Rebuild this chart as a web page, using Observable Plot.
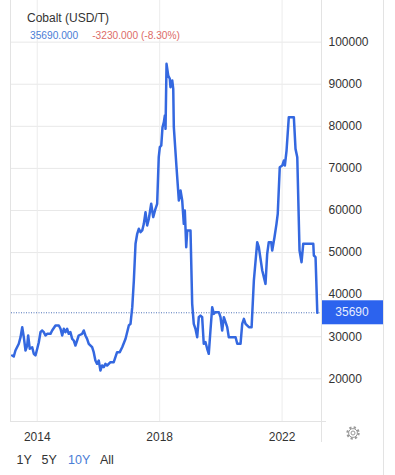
<!DOCTYPE html>
<html>
<head>
<meta charset="utf-8">
<script src="https://cdn.jsdelivr.net/npm/d3@7"></script>
<script src="https://cdn.jsdelivr.net/npm/@observablehq/plot@0.6"></script>
<style>
  html, body { margin: 0; padding: 0; background: #fff; }
  #wrap { position: relative; width: 395px; height: 475px; overflow: hidden; background: #fff;
          font-family: "Liberation Sans", Arial, Helvetica, sans-serif; color: #333; }
  #wrap svg.plot { position: absolute; left: 0; top: 0; }
  .abs { position: absolute; white-space: nowrap; }
  .vline { position: absolute; width: 1px; background: #e3e3e3; }
  .hline { position: absolute; height: 1px; background: #e3e3e3; }
</style>
</head>
<body>
<div id="wrap">
  <div class="vline" style="left:10px;top:0;height:422px"></div>
  <div class="hline" style="left:10px;top:421px;width:316px"></div>
  <div class="vline" style="left:321px;top:0;height:442px"></div>
  <div class="vline" style="left:383px;top:0;height:475px"></div>
</div>
<script>
// ---- data ----
const title = "Cobalt (USD/T)";
const lastText = "35690.000";
const changeText = "-3230.000 (-8.30%)";
const rangeButtons = ["1Y", "5Y", "10Y", "All"];
const activeButton = "10Y";

const dates = [
  "2013-03-08","2013-03-27","2013-04-16","2013-05-26","2013-06-16","2013-07-06","2013-07-25","2013-08-14",
  "2013-09-03","2013-09-15","2013-10-04","2013-11-02","2013-11-21","2013-12-11","2014-01-01","2014-01-20",
  "2014-02-09","2014-03-01","2014-03-20","2014-04-09","2014-04-29","2014-06-08","2014-06-28","2014-08-07",
  "2014-09-16","2014-10-06","2014-10-26","2014-11-14","2014-12-04","2014-12-24","2015-01-12","2015-02-01",
  "2015-02-22","2015-03-13","2015-04-02","2015-04-22","2015-05-11","2015-06-21","2015-07-10","2015-07-30",
  "2015-08-19","2015-09-08","2015-10-18","2015-11-06","2015-11-26","2015-12-16","2016-01-05","2016-01-25",
  "2016-02-14","2016-03-05","2016-03-25","2016-04-14","2016-05-24","2016-07-02","2016-07-22","2016-08-11",
  "2016-09-12","2016-10-11","2016-11-20","2016-12-29","2017-01-18","2017-02-08","2017-02-27","2017-03-19",
  "2017-04-08","2017-04-27","2017-05-18","2017-06-07","2017-06-26","2017-07-16","2017-08-05","2017-08-25",
  "2017-09-22","2017-10-16","2017-11-12","2017-12-02","2017-12-21","2018-01-03","2018-01-20","2018-02-04",
  "2018-02-20","2018-03-04","2018-03-12","2018-03-24","2018-04-13","2018-05-02","2018-05-10","2018-05-31",
  "2018-06-12","2018-06-19","2018-07-21","2018-08-18","2018-09-07","2018-09-27","2018-10-16","2018-10-28",
  "2018-11-14","2018-11-26","2019-01-04","2019-01-24","2019-02-12","2019-03-04","2019-03-25","2019-04-13",
  "2019-05-03","2019-05-23","2019-06-11","2019-07-02","2019-07-22","2019-08-10","2019-08-30","2019-09-20",
  "2019-10-09","2019-10-29","2019-12-08","2019-12-28","2020-01-17","2020-02-06","2020-02-26","2020-03-17",
  "2020-04-05","2020-06-25","2020-07-15","2020-08-23","2020-09-12","2020-10-02","2020-10-22","2020-12-01",
  "2021-01-02","2021-01-29","2021-03-10","2021-03-29","2021-05-09","2021-06-17","2021-07-07","2021-07-26",
  "2021-08-24","2021-09-05","2021-10-02","2021-10-26","2021-11-10","2021-12-04","2022-01-03","2022-01-22",
  "2022-02-03","2022-02-23","2022-03-22","2022-05-21","2022-06-10","2022-07-01","2022-07-28","2022-08-21",
  "2022-09-10","2023-01-08","2023-01-15","2023-02-04","2023-02-25"
];
const values = [
  25540,25300,26730,28320,29890,32260,29890,26730,
  27910,30290,27130,27500,25940,25540,27130,28700,
  31080,31480,31080,30290,30690,30690,31480,32670,
  32670,31880,30290,31880,31080,31880,30690,31080,
  29500,29100,27910,29100,30290,30690,31480,30290,
  29500,28320,27500,26330,24350,23560,24350,21970,
  23160,22770,23560,23160,23950,23950,25130,26330,
  26330,27500,29500,32670,33070,37020,43360,52080,
  54460,55650,54860,55250,56830,59600,56440,58020,
  61590,58420,60400,61590,72660,75040,75430,79790,
  80980,82570,79400,94850,92080,91290,89300,90900,
  88900,79790,70280,62360,64740,62360,56830,60000,
  51280,55250,55250,37820,33070,31880,29890,34640,
  35040,34640,28320,28700,27130,25940,31480,37020,
  35430,35830,35830,34640,31480,34640,33460,32270,
  29890,29890,28320,28320,33070,34250,33070,32270,
  32270,43360,52470,51280,45730,42560,49690,52470,
  52470,50480,53650,56830,59210,70280,70680,71860,
  70680,74250,82170,82170,74640,72660,50480,47710,
  52080,52080,49300,48900,35690
];
const yTicks = [20000, 30000, 40000, 50000, 60000, 70000, 80000, 90000, 100000];
const xTickYears = [2014, 2018, 2022];
const xDomain = ["2013-02-28", "2023-04-28"];
const yDomain = [9615, 109900];

// ---- build ----
const data = dates.map((d, i) => ({date: new Date(d), value: values[i]}));
const last = data[data.length - 1];
const xTicks = xTickYears.map(y => new Date(Date.UTC(y, 0, 1)));

const chart = Plot.plot({
  width: 395,
  height: 475,
  marginTop: 0,
  marginBottom: 53,
  marginLeft: 11,
  marginRight: 73,
  style: {fontFamily: '"Liberation Sans", Arial, Helvetica, sans-serif', fontSize: "12px", color: "#333", background: "transparent", overflow: "visible"},
  x: {type: "utc", domain: xDomain.map(d => new Date(d)), label: null},
  y: {domain: yDomain, label: null},
  marks: [
    Plot.gridY(yTicks, {stroke: "#e8e8e8", strokeOpacity: 1}),
    Plot.gridX(xTicks, {stroke: "#ececec", strokeOpacity: 1}),
    Plot.ruleY([last], {y: "value", stroke: "#4f73b8", strokeWidth: 1, strokeDasharray: "1,1.5"}),
    Plot.lineY(data, {x: "date", y: "value", stroke: "#3468e0", strokeWidth: 2.5, strokeLinejoin: "round"}),
    Plot.axisY(yTicks, {anchor: "right", label: null, tickSize: 0, tickPadding: 6, tickFormat: d => String(d), fill: "#333", fontSize: 12}),
    Plot.axisX(xTicks, {anchor: "bottom", label: null, tickSize: 0, tickPadding: 10, tickFormat: d3.utcFormat("%Y"), fill: "#333", fontSize: 12})
  ]
});
chart.classList.add("plot");
const wrap = document.getElementById("wrap");
wrap.insertBefore(chart, wrap.firstChild);

// last-price label box using the chart's y scale
const yScale = chart.scale("y");
const yPix = yScale.apply(last.value);
const svg = d3.select(chart);
const g = svg.append("g");
g.append("rect").attr("x", 322).attr("y", yPix - 12).attr("width", 61).attr("height", 24).attr("fill", "#2c63ee");
g.append("text").attr("x", 352).attr("y", yPix).attr("dy", "0.35em").attr("text-anchor", "middle")
  .attr("fill", "#e6edff").attr("font-size", 12).text(String(last.value));

// header texts
const t = document.createElement("div");
t.className = "abs"; t.style.cssText = "left:27px;top:11px;font-size:12px;line-height:14px;color:#333";
t.textContent = title; wrap.appendChild(t);
const s = document.createElement("div");
s.className = "abs"; s.style.cssText = "left:30px;top:30px;font-size:10.2px;line-height:12px";
s.innerHTML = '<span style="color:#4a7dd6">' + lastText + '</span><span style="color:#dd6b68;margin-left:14px">' + changeText + '</span>';
wrap.appendChild(s);

// range buttons
const btnX = [16.5, 41.5, 68, 100];
rangeButtons.forEach((b, i) => {
  const e = document.createElement("div");
  e.className = "abs";
  e.style.cssText = `left:${btnX[i]}px;top:453px;font-size:12.5px;line-height:14px;color:${b === activeButton ? "#4a7dd6" : "#333"}`;
  e.textContent = b; wrap.appendChild(e);
});

// gear icon
const gear = d3.select(wrap).append("svg").attr("width", 16).attr("height", 16)
  .style("position", "absolute").style("left", "345px").style("top", "425px");
gear.append("circle").attr("cx", 8).attr("cy", 8).attr("r", 5.6).attr("fill", "none").attr("stroke", "#999").attr("stroke-width", 2.2).attr("stroke-dasharray", "2.2,2.2");
gear.append("circle").attr("cx", 8).attr("cy", 8).attr("r", 4.4).attr("fill", "#fff").attr("stroke", "#999").attr("stroke-width", 1);
gear.append("circle").attr("cx", 8).attr("cy", 8).attr("r", 2).attr("fill", "none").attr("stroke", "#999").attr("stroke-width", 1);
</script>
</body>
</html>
